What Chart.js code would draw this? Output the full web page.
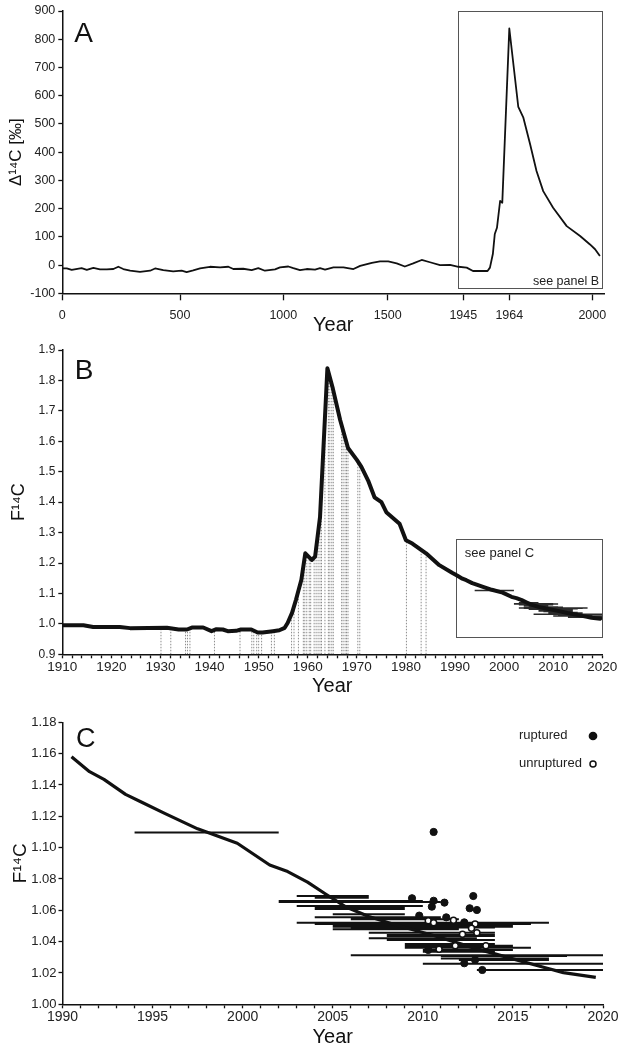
<!DOCTYPE html>
<html>
<head>
<meta charset="utf-8">
<script src="https://cdn.jsdelivr.net/npm/chart.js@4.4.1/dist/chart.umd.min.js"></script>
<style>
  html, body { margin: 0; padding: 0; background: #fff; }
  #wrap { position: relative; width: 624px; height: 1050px; overflow: hidden; background: #fff; }
  canvas { position: absolute; left: 0; }
</style>
</head>
<body>
<div id="wrap">
  <canvas id="panelA" width="624" height="340" style="top:0px"></canvas>
  <canvas id="panelB" width="624" height="365" style="top:335px"></canvas>
  <canvas id="panelC" width="624" height="360" style="top:690px"></canvas>
</div>
<script>
/**
 * Atmospheric bomb-pulse radiocarbon, three stacked panels
 */

// ---- Panel A: Δ14C over two millennia (‰) ----
const A_YEARS = [0, 19, 40, 82, 104, 132, 160, 189, 217, 238, 259, 288, 330, 373, 394, 429, 471, 508, 532, 564,
    597, 645, 694, 734, 758, 806, 847, 879, 911, 960, 984, 1024, 1048, 1080, 1112, 1152, 1176, 1200, 1240, 1288,
    1336, 1368, 1424, 1463, 1503, 1553, 1601, 1650, 1700, 1749, 1808, 1867, 1916, 1946.4, 1949, 1955, 1956, 1957.2,
    1958, 1958.9, 1960.2, 1961.1, 1964, 1967.9, 1970.1, 1973, 1975.8, 1978.7, 1983, 1988.9, 1994.7, 1999, 2001.2, 2003.3];
const A_DELTA14C = [-12, -12, -17, -11, -17, -10, -15, -15, -14, -6, -14, -20, -24, -20, -12, -18, -22, -20, -25, -19,
    -12, -6, -8, -6, -14, -13, -18, -11, -20, -15, -8, -5, -11, -18, -14, -16, -11, -16, -8, -8,
    -14, -3, 8, 13, 13, 6, -5, 6, 18, 10, 0, 1, -6, -9, -21, -21, -9, 39,
    110, 132, 227, 221, 838, 560, 522, 429, 333, 262, 203, 138, 103, 73, 56, 32];
const A_TICK_YEARS = [0, 500, 1000, 1500, 1945, 1964, 2000];

// ---- Panel B/C: F14C calibration curve ----
const CURVE_YEARS = [1910, 1914.3, 1916.3, 1921.7, 1923.8, 1931.3, 1933.7, 1935.4, 1936.4, 1938.7,
    1940.4, 1941.4, 1942.7, 1943.7, 1945.4, 1946.4, 1948.5, 1949.8, 1950.8, 1952.9,
    1954.2, 1955.3, 1955.9, 1956.8, 1957.6, 1958.7, 1959.5, 1960.8, 1961.5, 1962.5,
    1964.0, 1965.1, 1966.6, 1968.2, 1970.0, 1970.9, 1972.3, 1973.6, 1975.0, 1976.0,
    1978.7, 1980.0, 1981.3, 1984.1, 1986.8, 1989.4,
    1990.5, 1991.5, 1992.3, 1993.5, 1994.4, 1995.7, 1997.5, 1999.7, 2001.5, 2002.5,
    2003.6, 2004.6, 2005.7, 2007.0, 2008.5, 2010.7, 2012.9, 2015.1, 2016.9, 2017.8, 2019.6];
const CURVE_F14C = [0.9955, 0.9955, 0.990, 0.990, 0.986, 0.987, 0.9815, 0.9815, 0.988, 0.988,
    0.976, 0.9825, 0.9815, 0.976, 0.977, 0.9815, 0.9815, 0.9717, 0.9717, 0.976,
    0.979, 0.987, 1.003, 1.036, 1.079, 1.145, 1.232, 1.210, 1.221, 1.351,
    1.840, 1.774, 1.670, 1.578, 1.539, 1.517, 1.471, 1.416, 1.400, 1.367,
    1.329, 1.275, 1.264, 1.232, 1.193, 1.168,
    1.158, 1.1485, 1.1436, 1.134, 1.129, 1.1217, 1.112, 1.1028, 1.0889, 1.0847,
    1.078, 1.0704, 1.0623, 1.056, 1.0506, 1.0436, 1.0357, 1.0287, 1.023, 1.0202, 1.0172];

// birth years of the sampled subjects (dotted drop lines in panel B)
const B_BIRTH_YEARS = [1930.1, 1932.1, 1935.1, 1935.5, 1936.0, 1941.0, 1946.2, 1948.6, 1949.0, 1949.6,
    1950.0, 1950.6, 1952.6, 1953.2, 1956.7, 1957.2, 1958.1, 1959.1, 1959.4, 1959.8,
    1960.3, 1960.6, 1961.3, 1961.7, 1962.1, 1962.5, 1962.8, 1963.5, 1964.2, 1964.5,
    1964.9, 1965.2, 1966.9, 1967.2, 1967.6, 1967.9, 1968.2, 1970.2, 1970.6, 1980.1, 1983.1, 1984.1];

// ---- Panel C: aneurysm samples ----
const RUPTURED_YEARS = [2010.6, 2009.4, 2010.6, 2011.2, 2010.5, 2012.8, 2012.6, 2013.0, 2009.8, 2011.3,
    2012.3, 2010.3, 2012.3, 2012.9, 2013.3];
const RUPTURED_F14C = [1.110, 1.0677, 1.0661, 1.0649, 1.0623, 1.0691, 1.0613, 1.0602, 1.0566, 1.0555,
    1.0523, 1.0347, 1.0262, 1.0283, 1.0219];
const UNRUPTURED_YEARS = [2010.3, 2010.6, 2011.7, 2012.9, 2012.7, 2013.0, 2012.2, 2011.8, 2013.5, 2010.9];
const UNRUPTURED_F14C = [1.0534, 1.0521, 1.0536, 1.0513, 1.0485, 1.0457, 1.0447, 1.0374, 1.0374, 1.0351];

// date ranges where each measurement meets the curve
const RANGE_START = [1994, 2003, 2004, 2002, 2002, 2003, 2004, 2004, 2005, 2004,
    2006, 2003, 2004, 2005, 2005, 2006, 2005, 2007, 2008, 2008,
    2007, 2008, 2009, 2009, 2009, 2010, 2010, 2006, 2011, 2011, 2012, 2010, 2013];
const RANGE_END = [2002, 2007, 2007, 2010, 2011, 2010, 2009, 2009, 2009, 2011,
    2012, 2017, 2016, 2015, 2015, 2014, 2012, 2014, 2014, 2014,
    2013, 2014, 2014, 2015, 2016, 2015, 2014, 2020, 2018, 2017, 2017, 2020, 2020];
const RANGE_F14C = [1.1096, 1.0691, 1.068, 1.0659, 1.0653, 1.0627, 1.0608, 1.0615, 1.0574, 1.0555,
    1.0543, 1.0521, 1.0513, 1.0500, 1.0495, 1.0491, 1.0479, 1.0457, 1.0442, 1.0436,
    1.0421, 1.0410, 1.0385, 1.0374, 1.0361, 1.0347, 1.0336, 1.0313, 1.0308, 1.0293, 1.0283, 1.0259, 1.0219];

const FONT = '"Liberation Sans", Arial, Helvetica, sans-serif';
const INK = '#111';

Chart.defaults.font.family = FONT;
Chart.defaults.color = '#222';
Chart.defaults.animation = false;
Chart.defaults.events = [];
Chart.defaults.plugins.legend.display = false;
Chart.defaults.plugins.tooltip.enabled = false;

// piecewise axis used by panel A (compressed before 1945, stretched after)
const A_AXIS_KNOTS = [[0, 0], [500, 117.7], [1000, 221], [1500, 325.4], [1945, 401], [1964, 447], [2000, 530]];

class BrokenYearScale extends Chart.LinearScale {
    static id = 'brokenYear';
    static defaults = {};
    _warp(v) {
        const k = A_AXIS_KNOTS;
        let i = 1;
        while (i < k.length - 1 && v > k[i][0]) i++;
        const [v0, p0] = k[i - 1], [v1, p1] = k[i];
        return p0 + (v - v0) * (p1 - p0) / (v1 - v0);
    }
    _unwarp(p) {
        const k = A_AXIS_KNOTS;
        let i = 1;
        while (i < k.length - 1 && p > k[i][1]) i++;
        const [v0, p0] = k[i - 1], [v1, p1] = k[i];
        return v0 + (p - p0) * (v1 - v0) / (p1 - p0);
    }
    getPixelForValue(value) {
        if (value === null || value === undefined || isNaN(value)) return NaN;
        const a = this._warp(this.min), b = this._warp(this.max);
        return this.getPixelForDecimal((this._warp(value) - a) / (b - a));
    }
    getValueForPixel(pixel) {
        const a = this._warp(this.min), b = this._warp(this.max);
        return this._unwarp(a + this.getDecimalForPixel(pixel) * (b - a));
    }
}
Chart.register(BrokenYearScale);

const pts = (xs, ys) => xs.map((x, i) => ({x: x, y: ys[i]}));

function interp(xs, ys, x) {
    for (let i = 1; i < xs.length; i++) {
        if (x <= xs[i]) {
            const t = (x - xs[i - 1]) / (xs[i] - xs[i - 1]);
            return ys[i - 1] + t * (ys[i] - ys[i - 1]);
        }
    }
    return ys[ys.length - 1];
}

// horizontal range bars, broken by null gaps
function rangeSegments(starts, ends, levels) {
    const out = [];
    starts.forEach((s, i) => {
        out.push({x: s, y: levels[i]}, {x: ends[i], y: levels[i]}, {x: ends[i], y: null});
    });
    return out;
}

// vertical drop lines from the axis to the curve
function dropSegments(years, base) {
    const out = [];
    years.forEach(yr => {
        out.push({x: yr, y: base}, {x: yr, y: interp(CURVE_YEARS, CURVE_F14C, yr)}, {x: yr, y: null});
    });
    return out;
}

/**
 * Panel letter, framed insets, notes and the point key
 */
const decor = {
    id: 'decor',
    beforeDatasetsDraw(chart, args, o) {
        const {ctx, scales: {x, y}} = chart;
        ctx.save();
        ctx.strokeStyle = '#555';
        ctx.lineWidth = 1;
        (o.boxes || []).forEach(b => {
            const l = Math.round(x.getPixelForValue(b.x0)) + 0.5;
            const r = Math.round(x.getPixelForValue(b.x1)) + 0.5;
            const t = Math.round(y.getPixelForValue(b.y1)) + 0.5;
            const btm = Math.round(y.getPixelForValue(b.y0)) + 0.5;
            ctx.strokeRect(l, t, r - l, btm - t);
        });
        ctx.restore();
    },
    afterDatasetsDraw(chart, args, o) {
        const {ctx, chartArea: a, scales: {x, y}} = chart;
        ctx.save();
        ctx.fillStyle = INK;
        if (o.letter) {
            ctx.font = o.letterSize + 'px ' + FONT;
            ctx.textAlign = 'left';
            ctx.textBaseline = 'alphabetic';
            ctx.fillText(o.letter, a.left + o.letterDx, a.top + o.letterDy);
        }
        (o.notes || []).forEach(n => {
            ctx.font = n.size + 'px ' + FONT;
            ctx.fillStyle = '#222';
            ctx.textAlign = n.align;
            ctx.textBaseline = 'middle';
            ctx.fillText(n.text, x.getPixelForValue(n.x), y.getPixelForValue(n.y));
        });
        (o.keys || []).forEach(k => {
            const yy = a.top + k.dy;
            ctx.font = '13px ' + FONT;
            ctx.fillStyle = '#222';
            ctx.textAlign = 'left';
            ctx.textBaseline = 'middle';
            ctx.fillText(k.label, a.right - 84, yy);
            ctx.beginPath();
            ctx.arc(a.right - 10, yy + 1, k.filled ? 3.6 : 3, 0, Math.PI * 2);
            ctx.fillStyle = k.filled ? INK : '#fff';
            ctx.fill();
            ctx.lineWidth = 1.5;
            ctx.strokeStyle = INK;
            ctx.stroke();
        });
        ctx.restore();
    }
};

function axisX(cfg) {
    return {
        type: cfg.type || 'linear',
        min: cfg.min,
        max: cfg.max,
        border: {display: true, color: INK, width: 1.5},
        grid: {
            display: true, drawOnChartArea: false, drawTicks: true,
            tickLength: cfg.tickLength, tickColor: INK,
            tickWidth: cfg.tickWidth || 1.3,
        },
        ticks: {
            stepSize: cfg.step,
            autoSkip: false, maxRotation: 0,
            padding: cfg.pad,
            color: '#222',
            font: {size: cfg.fontSize},
            callback: cfg.label,
        },
        title: {
            display: true, text: 'Year', color: INK,
            font: {size: 20}, padding: {top: 0, bottom: cfg.titlePad},
        },
        afterBuildTicks: cfg.tickValues ? (s => { s.ticks = cfg.tickValues.map(v => ({value: v})); }) : undefined,
        afterFit: s => { s.height = cfg.height; },
    };
}

function axisY(cfg) {
    return {
        type: 'linear',
        min: cfg.min,
        max: cfg.max,
        border: {display: true, color: INK, width: 1.5},
        grid: {display: true, drawOnChartArea: false, drawTicks: true, tickLength: 4, tickColor: INK, tickWidth: 1.3},
        ticks: {
            stepSize: cfg.step, autoSkip: false, padding: cfg.pad, color: '#222',
            font: {size: cfg.fontSize},
            callback: cfg.label,
        },
        title: {
            display: true, text: cfg.title, color: INK,
            font: {size: cfg.titleSize}, padding: {top: cfg.titlePad, bottom: 0},
        },
        afterFit: s => { s.width = cfg.width; },
    };
}

// ---------------- Panel A ----------------
new Chart(document.getElementById('panelA'), {
    type: 'scatter',
    data: {
        datasets: [{
            data: pts(A_YEARS, A_DELTA14C),
            showLine: true, borderColor: INK, borderWidth: 1.8,
            pointRadius: 0, tension: 0, borderJoinStyle: 'round',
        }]
    },
    options: {
        responsive: false,
        devicePixelRatio: 1,
        layout: {padding: {top: 11, right: 19.7, left: 0, bottom: 0}},
        scales: {
            x: axisX({
                type: 'brokenYear', min: 0, max: 2005.2, tickValues: A_TICK_YEARS,
                tickLength: 7, pad: 7.5, fontSize: 12.5, height: 46.7, titlePad: 3,
                label: v => String(v),
            }),
            y: axisY({
                min: -100, max: 900, step: 100, pad: 3, fontSize: 12.5, width: 62.3,
                title: 'Δ¹⁴C [‰]', titleSize: 17, titlePad: 6,
                label: v => String(Math.round(v)),
            }),
        },
        plugins: {
            decor: {
                letter: 'A', letterSize: 28, letterDx: 12, letterDy: 30.7,
                boxes: [{x0: 1914, x1: 2004.1, y0: -82, y1: 900}],
                notes: [{text: 'see panel B', x: 2002.9, y: -58, align: 'right', size: 12.5}],
            }
        }
    },
    plugins: [decor]
});

// ---------------- Panel B ----------------
new Chart(document.getElementById('panelB'), {
    type: 'scatter',
    data: {
        datasets: [{
            data: pts(CURVE_YEARS, CURVE_F14C),
            showLine: true, borderColor: INK, borderWidth: 4,
            pointRadius: 0, tension: 0, borderJoinStyle: 'round', borderCapStyle: 'round',
        }, {
            data: rangeSegments(RANGE_START, RANGE_END, RANGE_F14C),
            showLine: true, spanGaps: false, borderColor: '#2a2a2a', borderWidth: 1.5, pointRadius: 0,
        }, {
            data: dropSegments(B_BIRTH_YEARS, 0.9),
            showLine: true, spanGaps: false, borderColor: '#8c8c8c', borderWidth: 1,
            borderDash: [1.5, 1.5], pointRadius: 0,
        }]
    },
    options: {
        responsive: false,
        devicePixelRatio: 1,
        layout: {padding: {top: 15, right: 21.7, left: 0, bottom: 0}},
        scales: {
            x: axisX({
                min: 1910, max: 2020, step: 2, tickLength: 4, pad: 1, fontSize: 13.5,
                height: 45.7, titlePad: 1.3,
                label: v => (v % 10 === 0 ? String(v) : ''),
            }),
            y: axisY({
                min: 0.9, max: 1.9, step: 0.1, pad: 3, fontSize: 12, width: 62.3,
                title: 'F¹⁴C', titleSize: 18, titlePad: 8.7,
                label: v => v.toFixed(1),
            }),
        },
        plugins: {
            decor: {
                letter: 'B', letterSize: 28, letterDx: 12.5, letterDy: 29.3,
                boxes: [{x0: 1990.2, x1: 2020, y0: 0.958, y1: 1.278}],
                notes: [{text: 'see panel C', x: 1992, y: 1.232, align: 'left', size: 13}],
            }
        }
    },
    plugins: [decor]
});

// ---------------- Panel C ----------------
const C_FROM = CURVE_YEARS.findIndex(v => v >= 1990);
new Chart(document.getElementById('panelC'), {
    type: 'scatter',
    data: {
        datasets: [{
            data: pts(RUPTURED_YEARS, RUPTURED_F14C),
            pointRadius: 3.6, pointBackgroundColor: INK, pointBorderColor: INK, pointBorderWidth: 1,
        }, {
            data: pts(UNRUPTURED_YEARS, UNRUPTURED_F14C),
            pointRadius: 3, pointBackgroundColor: '#fff', pointBorderColor: INK, pointBorderWidth: 1.5,
        }, {
            data: pts(CURVE_YEARS.slice(C_FROM), CURVE_F14C.slice(C_FROM)),
            showLine: true, borderColor: INK, borderWidth: 3.2,
            pointRadius: 0, tension: 0, borderJoinStyle: 'round',
        }, {
            data: rangeSegments(RANGE_START, RANGE_END, RANGE_F14C),
            showLine: true, spanGaps: false, borderColor: INK, borderWidth: 2, pointRadius: 0,
        }]
    },
    options: {
        responsive: false,
        devicePixelRatio: 1,
        layout: {padding: {top: 32.3, right: 21, left: 0, bottom: 0}},
        scales: {
            x: axisX({
                min: 1990, max: 2020, step: 1, tickLength: 4, pad: 0, fontSize: 14,
                height: 45.7, titlePad: 1,
                label: v => (v % 5 === 0 ? String(v) : ''),
            }),
            y: axisY({
                min: 1.0, max: 1.18, step: 0.02, pad: 2, fontSize: 13, width: 62.5,
                title: 'F¹⁴C', titleSize: 19, titlePad: 9,
                label: v => v.toFixed(2),
            }),
        },
        plugins: {
            decor: {
                letter: 'C', letterSize: 27, letterDx: 13.5, letterDy: 24.7,
                keys: [
                    {label: 'ruptured', filled: true, dy: 12.7},
                    {label: 'unruptured', filled: false, dy: 40.7},
                ],
            }
        }
    },
    plugins: [decor]
});
</script>
</body>
</html>
